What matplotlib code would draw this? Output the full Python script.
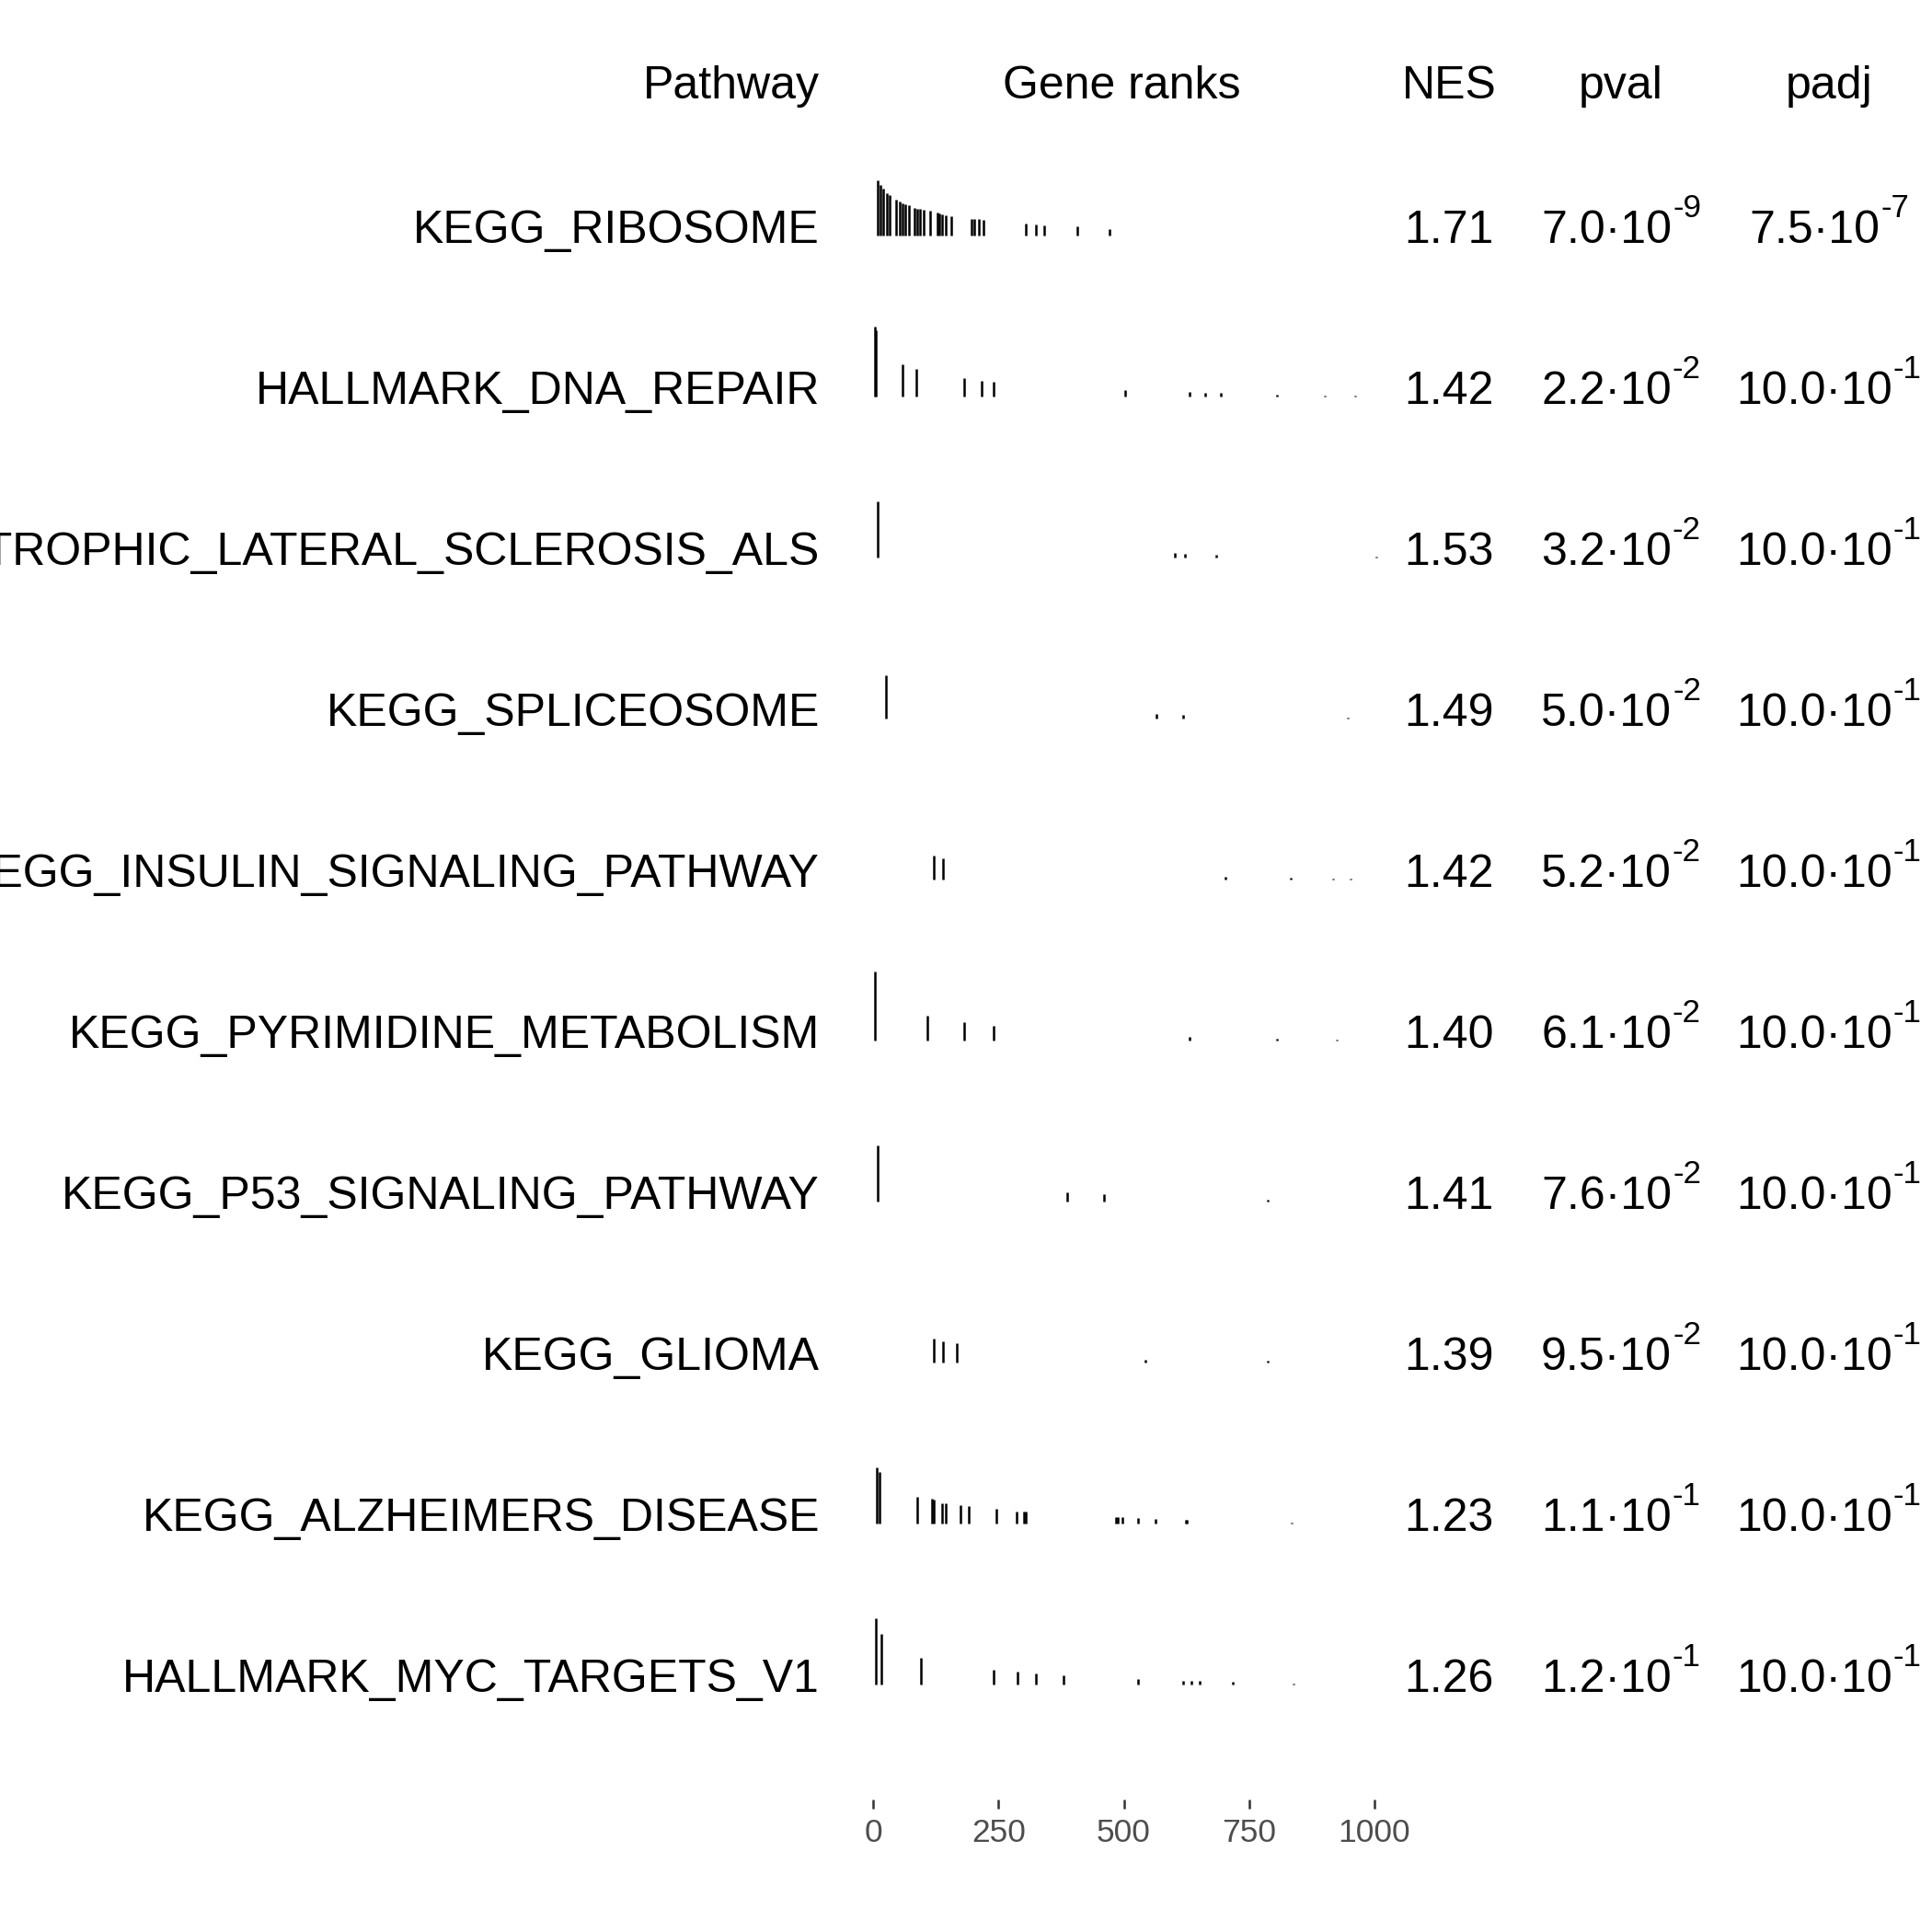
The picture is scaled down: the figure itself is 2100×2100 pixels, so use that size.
"""GSEA table: pathway names, gene-rank barcodes, NES, pval and padj per row."""
import math

import matplotlib
matplotlib.use("Agg")
import matplotlib.pyplot as plt
from matplotlib.transforms import IdentityTransform

plt.rcParams["font.family"] = ["Liberation Sans", "DejaVu Sans"]

HEADERS = ["Pathway", "Gene ranks", "NES", "pval", "padj"]

PATHWAYS = [
    "KEGG_RIBOSOME",
    "HALLMARK_DNA_REPAIR",
    "KEGG_AMYOTROPHIC_LATERAL_SCLEROSIS_ALS",
    "KEGG_SPLICEOSOME",
    "KEGG_INSULIN_SIGNALING_PATHWAY",
    "KEGG_PYRIMIDINE_METABOLISM",
    "KEGG_P53_SIGNALING_PATHWAY",
    "KEGG_GLIOMA",
    "KEGG_ALZHEIMERS_DISEASE",
    "HALLMARK_MYC_TARGETS_V1",
]
NES = [1.71, 1.42, 1.53, 1.49, 1.42, 1.40, 1.41, 1.39, 1.23, 1.26]
PVAL = [7.0e-9, 2.2e-2, 3.2e-2, 5.0e-2, 5.2e-2, 6.1e-2, 7.6e-2, 9.5e-2, 1.1e-1, 1.2e-1]
PADJ = [7.5e-7, 0.9999, 0.9999, 0.9999, 0.9999, 0.9999, 0.9999, 0.9999, 0.9999, 0.9999]

# rank positions of pathway genes and their (unitless) ranking statistic
RANKS = [
    [10, 15, 20, 28, 33, 46, 54, 59, 65, 71, 82, 88, 94, 101, 114, 128, 133, 138,
     145, 156, 197, 202, 211, 220, 305, 324, 341, 408, 472],
    [3, 6, 58, 86, 181, 216, 240, 503, 632, 662, 693, 805, 901, 961],
    [10, 601, 622, 685, 1003],
    [26, 566, 618, 946, 1009],
    [122, 140, 702, 833, 917, 952, 996],
    [3, 108, 181, 240, 632, 805, 924],
    [10, 388, 461, 788, 970, 981],
    [122, 140, 167, 544, 788, 970],
    [8, 13, 88, 117, 122, 138, 145, 174, 190, 246, 286, 301, 305, 485, 488, 497,
     528, 564, 623, 625, 834],
    [6, 16, 95, 240, 288, 324, 379, 528, 618, 634, 652, 718, 839, 972],
]
STATS = [
    [60.0, 55.4, 51.1, 46.4, 43.9, 38.9, 36.8, 35.0, 33.9, 32.9, 30.0, 29.3, 28.9,
     27.9, 27.1, 25.0, 23.9, 23.2, 22.1, 21.4, 18.2, 18.2, 17.9, 17.1, 12.9, 12.1,
     11.4, 9.6, 7.5],
    [75.7, 72.1, 35.0, 29.6, 20.0, 17.5, 16.1, 6.8, 4.6, 4.3, 3.9, 2.1, 1.1, 0.7],
    [61.4, 4.6, 4.3, 3.2, 0.7],
    [47.5, 5.4, 4.3, 1.1, 0.4],
    [26.1, 23.2, 2.9, 1.8, 1.1, 0.7, 0.4],
    [75.0, 27.5, 20.4, 15.7, 4.3, 2.1, 1.1],
    [61.4, 10.0, 7.9, 1.8, 0.4, 0.4],
    [26.1, 23.2, 20.7, 3.2, 1.8, 0.4],
    [61.4, 56.4, 29.3, 26.8, 26.1, 22.5, 22.1, 20.4, 18.9, 15.7, 13.2, 13.2, 12.9,
     7.1, 7.1, 7.1, 6.1, 5.4, 3.9, 3.9, 1.1],
    [72.5, 55.4, 29.3, 16.1, 13.6, 12.5, 10.4, 6.1, 4.3, 4.3, 3.9, 2.9, 1.4, 0.4],
]
N_GENES = 1011
AXIS_TICKS = [0, 250, 500, 750, 1000]

# layout, in output pixels measured from the top-left corner
W = H = 2100
DPI = 300
ROW_H = 175
NAME_RIGHT = 891
RANK_LEFT, RANK_RIGHT = 949, 1500
RANK_TITLE_X = 1219
NES_X, PVAL_X, PADJ_X = 1575, 1762, 1988
HEADER_BASE = 107
TEXT_BASE0 = 264
BAR_BASE0 = 256
AXIS_Y = 1956
FS = 12
SUP_FS = 8.4
SUP_RISE = 28


def sci_parts(v):
    e = math.floor(math.log10(v))
    return f"{v / 10 ** e:.1f}", str(e)


def main():
    fig = plt.figure(figsize=(W / DPI, H / DPI), dpi=DPI, facecolor="white")
    ident = IdentityTransform()
    renderer = fig.canvas.get_renderer()

    def text(x, y, s, **kw):
        return fig.text(x, H - y, s, transform=ident, fontsize=kw.pop("fontsize", FS),
                        va="baseline", **kw)

    def sci_text(cx, y, v):
        mant, expo = sci_parts(v)
        t1 = text(0, y, f"{mant}\u00b710", ha="left")
        t2 = text(0, y - SUP_RISE, expo, ha="left", fontsize=SUP_FS)
        w1 = t1.get_window_extent(renderer).width
        w2 = t2.get_window_extent(renderer).width
        gap = 1
        x0 = cx - (w1 + gap + w2) / 2
        t1.set_x(x0)
        t2.set_x(x0 + w1 + gap)

    # header
    text(NAME_RIGHT, HEADER_BASE, HEADERS[0], ha="right")
    text(RANK_TITLE_X, HEADER_BASE, HEADERS[1], ha="center")
    text(NES_X, HEADER_BASE, HEADERS[2], ha="center")
    text(PVAL_X, HEADER_BASE, HEADERS[3], ha="center")
    text(PADJ_X, HEADER_BASE, HEADERS[4], ha="center")

    for i, name in enumerate(PATHWAYS):
        ty = TEXT_BASE0 + ROW_H * i
        text(NAME_RIGHT, ty, name, ha="right")
        text(NES_X, ty, f"{NES[i]:.2f}", ha="center")
        sci_text(PVAL_X, ty, PVAL[i])
        sci_text(PADJ_X, ty, PADJ[i])

        by = BAR_BASE0 + ROW_H * i
        ax = fig.add_axes([RANK_LEFT / W, 1 - (by + ROW_H / 2) / H,
                           (RANK_RIGHT - RANK_LEFT) / W, ROW_H / H])
        ax.vlines(RANKS[i], 0, STATS[i], color="black", lw=0.6)
        ax.set_xlim(0, N_GENES)
        ax.set_ylim(-ROW_H / 2, ROW_H / 2)
        ax.axis("off")

    axx = fig.add_axes([RANK_LEFT / W, 1 - AXIS_Y / H, (RANK_RIGHT - RANK_LEFT) / W, 1e-4])
    axx.set_xlim(0, N_GENES)
    axx.set_xticks(AXIS_TICKS)
    axx.set_yticks([])
    for sp in axx.spines.values():
        sp.set_visible(False)
    axx.patch.set_visible(False)
    axx.tick_params(axis="x", length=2.4, width=0.6, color="#333333",
                    labelcolor="#4D4D4D", labelsize=8.5, pad=2.4)

    fig.savefig("out.png", dpi=DPI, facecolor="white")


if __name__ == "__main__":
    main()
